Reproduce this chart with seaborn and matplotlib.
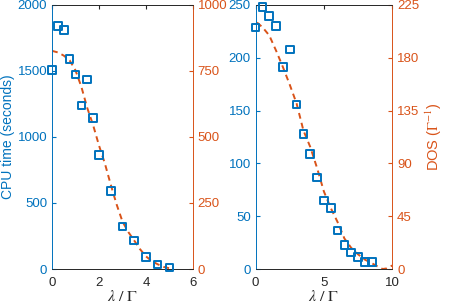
import matplotlib
matplotlib.use("Agg")
from matplotlib import pyplot as plt
import numpy as np
import pandas as pd
import seaborn as sns

BLUE = "#0072BD"
ORANGE = "#D95319"
GREY = "#262626"

# Left panel: CPU time (squares) and DOS (dashed)
cpu_lam_a = [0, 0.25, 0.5, 0.75, 1.0, 1.25, 1.5, 1.75, 2.0, 2.5, 3.0, 3.5, 4.0, 4.5, 5.0]
cpu_time_a = [1505, 1841, 1810, 1588, 1472, 1237, 1434, 1144, 864, 591, 323, 217, 91, 35, 10]
dos_lam_a = [0, 0.25, 0.5, 0.75, 1.0, 1.25, 1.5, 1.75, 2.0, 2.25, 2.5, 2.75, 3.0,
             3.25, 3.5, 3.75, 4.0, 4.25, 4.5, 4.75, 5.0]
dos_a = [826, 820, 808, 790, 752, 690, 610, 545, 468, 400, 320, 245, 180,
         140, 108, 75, 48, 30, 18, 8, 3]

# Right panel
cpu_lam_b = [0, 0.5, 1.0, 1.5, 2.0, 2.5, 3.0, 3.5, 4.0, 4.5, 5.0, 5.5, 6.0, 6.5, 7.0, 7.5, 8.0, 8.5]
cpu_time_b = [228.5, 248, 239.6, 229.8, 191, 207.7, 155.6, 128, 109, 86.8, 65, 57.8, 36.3,
              22.7, 15.8, 11.4, 6.9, 6.9]
dos_lam_b = [0.1, 0.5, 1.0, 1.5, 2.0, 2.5, 3.0, 3.5, 4.0, 4.5, 5.0, 5.5, 6.0, 6.5, 7.0,
             7.5, 8.0, 8.5, 9.0, 9.3, 9.6, 10.0]
dos_b = [210, 206, 199, 186, 172, 157, 141, 118, 104, 86, 66, 52, 40, 26, 18,
         12.5, 8, 5, 1.7, 0, 0.5, 3]

sns.set_style("white")
plt.rcParams["font.family"] = ["Liberation Sans", "DejaVu Sans"]

fig = plt.figure(figsize=(4.5, 3.05), dpi=100)
ax1 = fig.add_axes([0.1156, 0.118, 0.313, 0.866])
ax2 = fig.add_axes([0.568, 0.118, 0.3036, 0.866])


def draw_panel(ax, lam, cpu, dlam, dos, xlim, xticks, ylim, yticks, y2lim, y2ticks):
    ax2r = ax.twinx()
    sns.lineplot(x=dlam, y=dos, ax=ax2r, color=ORANGE, linestyle="--", linewidth=1.4)
    ax2r.lines[0].set_dashes([3, 2.2])
    sns.scatterplot(x=lam, y=cpu, ax=ax, marker="s", s=30, facecolor="none",
                    edgecolor=BLUE, linewidth=1.4, clip_on=False, zorder=5)
    ax.set_zorder(ax2r.get_zorder() + 1)
    ax.patch.set_visible(False)

    ax.set_xlim(*xlim)
    ax.set_xticks(xticks)
    ax.set_ylim(*ylim)
    ax.set_yticks(yticks)
    ax2r.set_ylim(*y2lim)
    ax2r.set_yticks(y2ticks)

    ax.tick_params(axis="y", direction="in", colors=BLUE, labelsize=9.5, length=3, pad=3.5)
    ax.tick_params(axis="x", direction="in", colors=GREY, labelsize=9.5, length=3,
                   top=True, pad=5.5)
    ax2r.tick_params(axis="y", direction="in", colors=ORANGE, labelsize=9.5, length=3, pad=3.5)
    for a in (ax, ax2r):
        for s in a.spines.values():
            s.set_linewidth(0.6)
        a.spines["top"].set_color(GREY)
        a.spines["bottom"].set_color(GREY)
        a.spines["left"].set_color(BLUE)
        a.spines["right"].set_color(ORANGE)
    ax.set_xlabel(r"$\lambda\ /\ \Gamma$", fontsize=11.5, color=GREY, labelpad=0)
    ax.xaxis.label.set_math_fontfamily("stix")
    return ax2r


r1 = draw_panel(ax1, cpu_lam_a, cpu_time_a, dos_lam_a, dos_a, (0, 6), [0, 2, 4, 6],
                (0, 2000), [0, 500, 1000, 1500, 2000], (0, 1000), [0, 250, 500, 750, 1000])
r2 = draw_panel(ax2, cpu_lam_b, cpu_time_b, dos_lam_b, dos_b, (0, 10), [0, 5, 10],
                (0, 250), [0, 50, 100, 150, 200, 250], (0, 225), [0, 45, 90, 135, 180, 225])

ax1.set_ylabel("CPU time (seconds)", color=BLUE, fontsize=10, labelpad=2)
r2.set_ylabel(r"DOS ($\Gamma^{-1}$)", color=ORANGE, fontsize=10.5, labelpad=3)
r2.yaxis.label.set_math_fontfamily("stix")

fig.savefig("out.png", dpi=100)
